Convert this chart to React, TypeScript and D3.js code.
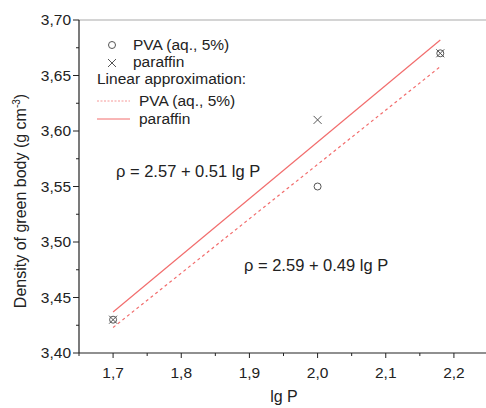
import React from 'react';
import * as d3 from 'd3';

const lgP = [1.7, 2.0, 2.18];
const pvaDensity = [3.43, 3.55, 3.67];
const paraffinDensity = [3.43, 3.61, 3.67];

// fitted lines, end points
const fitLgP = [1.7, 2.18];
const pvaFit = [3.423, 3.658];
const paraffinFit = [3.437, 3.682];

const xTicks = [1.7, 1.8, 1.9, 2.0, 2.1, 2.2];
const yTicks = [3.4, 3.45, 3.5, 3.55, 3.6, 3.65, 3.7];

const fmt = (v: number, d: number) => v.toFixed(d).replace('.', ',');

function App() {
  const width = 486;
  const height = 408;
  const left = 79;
  const top = 20;
  const right = 488;
  const bottom = 353;
  const red = '#f26d6d';
  const font = 'Liberation Sans, Arial, sans-serif';
  const fs = 15.5;

  const x = d3.scaleLinear().domain([1.65, 2.25]).range([left, right]);
  const y = d3.scaleLinear().domain([3.4, 3.7]).range([bottom, top]);

  const minorX = d3.range(1.65, 2.26, 0.05).filter(v => !xTicks.some(t => Math.abs(t - v) < 1e-6));
  const minorY = d3.range(3.425, 3.7, 0.05);

  const line = d3.line<number>().x((d, i) => x(fitLgP[i])).y(d => y(d));

  const cross = (cx: number, cy: number, s: number) =>
    `M${cx - s},${cy - s}L${cx + s},${cy + s}M${cx - s},${cy + s}L${cx + s},${cy - s}`;

  return (
    <svg width={width} height={height} style={{ position: 'absolute', left: 0, top: 0, background: '#fff' }} fontFamily={font}>
      <line x1={left} x2={right} y1={top} y2={top} stroke="#aaa" strokeWidth={1.2} />
      <line x1={left} x2={left} y1={top} y2={bottom} stroke="#222" strokeWidth={1.2} />
      <line x1={left} x2={right} y1={bottom} y2={bottom} stroke="#222" strokeWidth={1.2} />

      {yTicks.map(t => (
        <g key={t}>
          <line x1={left - 6} x2={left} y1={y(t)} y2={y(t)} stroke="#222" />
          <text x={left - 8} y={y(t)} dy="0.35em" textAnchor="end" fontSize={fs} fill="#222">{fmt(t, 2)}</text>
        </g>
      ))}
      {minorY.map(t => (
        <line key={t} x1={left - 3} x2={left} y1={y(t)} y2={y(t)} stroke="#222" />
      ))}
      {xTicks.map(t => (
        <g key={t}>
          <line x1={x(t)} x2={x(t)} y1={bottom} y2={bottom + 5} stroke="#222" />
          <text x={x(t)} y={bottom + 25} textAnchor="middle" fontSize={fs} fill="#222">{fmt(t, 1)}</text>
        </g>
      ))}
      {minorX.map(t => (
        <line key={t} x1={x(t)} x2={x(t)} y1={bottom} y2={bottom + 3} stroke="#222" />
      ))}

      <text x={284} y={402} textAnchor="middle" fontSize={16} fill="#222">lg P</text>
      <text transform="translate(26,201) rotate(-90)" textAnchor="middle" fontSize={16} fill="#222">
        Density of green body (g cm<tspan dy="-6" fontSize={10}>-3</tspan><tspan dy="6">)</tspan>
      </text>

      <path d={line(paraffinFit) || ''} fill="none" stroke={red} strokeWidth={1.2} />
      <path d={line(pvaFit) || ''} fill="none" stroke={red} strokeWidth={1.2} strokeDasharray="3,3" />

      {lgP.map((v, i) => (
        <circle key={'c' + i} cx={x(v)} cy={y(pvaDensity[i])} r={3.5} fill="none" stroke="#555" strokeWidth={1} />
      ))}
      {lgP.map((v, i) => (
        <path key={'x' + i} d={cross(x(v), y(paraffinDensity[i]), 4)} stroke="#555" strokeWidth={1} />
      ))}

      <circle cx={112} cy={45} r={3.5} fill="none" stroke="#555" />
      <text x={133} y={50} fontSize={fs} fill="#222">PVA (aq., 5%)</text>
      <path d={cross(112, 63, 4)} stroke="#555" />
      <text x={133} y={67} fontSize={fs} fill="#222">paraffin</text>
      <text x={97} y={84} fontSize={fs} fill="#222">Linear approximation:</text>
      <line x1={97} x2={130} y1={101} y2={101} stroke={red} strokeOpacity={0.7} strokeDasharray="2,1.5" />
      <text x={139} y={106} fontSize={fs} fill="#222">PVA (aq., 5%)</text>
      <line x1={97} x2={130} y1={119} y2={119} stroke={red} />
      <text x={139} y={124} fontSize={fs} fill="#222">paraffin</text>

      <text x={116} y={177} fontSize={16.5} fill="#222">ρ = 2.57 + 0.51 lg P</text>
      <text x={244} y={271} fontSize={16.5} fill="#222">ρ = 2.59 + 0.49 lg P</text>
    </svg>
  );
}

export default App;
